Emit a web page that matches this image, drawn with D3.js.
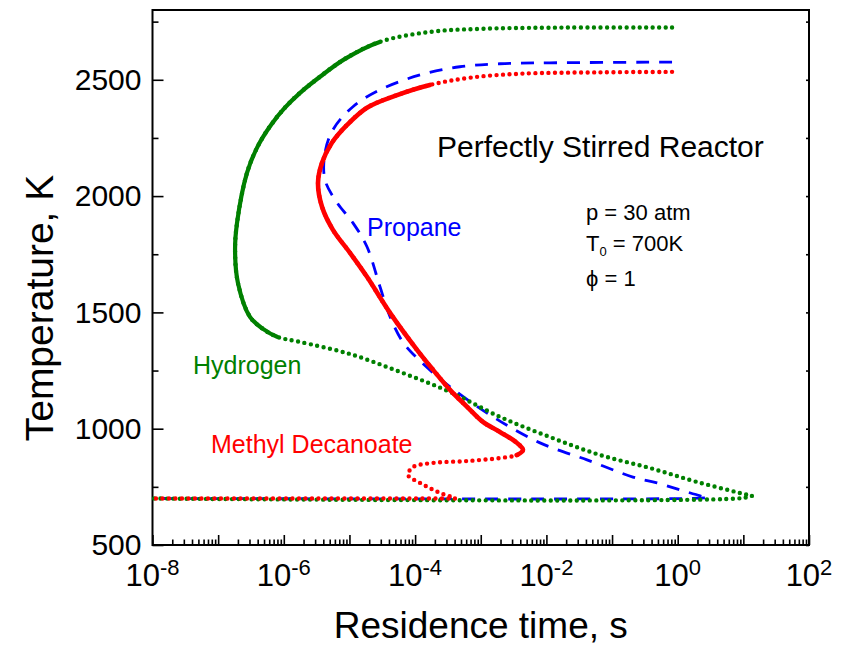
<!DOCTYPE html>
<html>
<head>
<meta charset="utf-8">
<script src="https://cdn.jsdelivr.net/npm/d3@7"></script>
<style>
  body { margin: 0; background: #fff; }
  svg { display: block; font-family: "Liberation Sans", Arial, sans-serif; }
</style>
</head>
<body>
<div id="chart"></div>
<script>
/* PSR S-curves: temperature vs residence time */

// axis ticks
const yMajor = [500, 1000, 1500, 2000, 2500];
const yMinor = [750, 1250, 1750, 2250, 2750];
const xDecades = [-8, -7, -6, -5, -4, -3, -2, -1, 0, 1, 2];
const xLabelExps = [-8, -6, -4, -2, 0, 2];

// Hydrogen (green), [tau s, T K], from the burning end down to the turning tip
const h2Branch = [[0.82, 2725], [0.0113, 2724], [9.7e-4, 2719], [1.7e-4, 2706], [2.9e-5, 2663],
  [8.55e-6, 2590], [3.56e-6, 2513], [1.77e-6, 2444], [1.04e-6, 2380], [6.38e-7, 2306],
  [4.04e-7, 2216], [2.75e-7, 2100], [1.94e-7, 1885], [1.81e-7, 1769], [2.0e-7, 1627],
  [3.05e-7, 1481], [4.82e-7, 1429], [7.9e-7, 1395], [1.77e-6, 1373], [1.02e-5, 1321],
  [5.9e-5, 1244], [3.4e-4, 1158], [1.96e-3, 1051], [0.01135, 964], [0.0655, 887],
  [0.378, 831], [1.97, 771], [13.5, 711]];
const h2Lower = [[13.5, 711], [9, 701], [1e-8, 700]];
const h2Dense = [[2.9e-5, 2663], [7.9e-7, 1395]];   // densely sampled stretch

// Propane (blue dashed)
const c3Branch = [[0.82, 2576], [0.0113, 2573], [1.96e-3, 2569], [4.8e-4, 2556], [1.19e-4, 2521],
  [2.92e-5, 2457], [1.13e-5, 2384], [5.6e-6, 2285], [4.24e-6, 2186], [4.24e-6, 2070],
  [6.5e-6, 1971], [1.13e-5, 1885], [1.85e-5, 1782], [2.92e-5, 1610], [4.15e-5, 1481],
  [6.5e-5, 1373], [1.07e-4, 1304], [3.4e-4, 1180], [1.54e-3, 1051], [8.0e-3, 939],
  [0.0416, 866], [0.208, 792], [0.484, 767], [1.08, 737], [2.19, 711], [2.6, 703]];
const c3Lower = [[2.6, 703], [1.5, 700], [1e-8, 700]];

// Methyl decanoate (red)
const mdBranch = [[0.82, 2534], [0.0655, 2532], [3.96e-3, 2526], [6.85e-4, 2509], [1.69e-4, 2478],
  [4.94e-5, 2431], [1.85e-5, 2380], [9.2e-6, 2306], [5.4e-6, 2229], [3.82e-6, 2143],
  [3.32e-6, 2057], [3.82e-6, 1954], [5.6e-6, 1855], [1.02e-5, 1756], [1.85e-5, 1653],
  [4.15e-5, 1498], [1.07e-4, 1339], [1.88e-4, 1253], [3.4e-4, 1167], [6.2e-4, 1094],
  [1.08e-3, 1029], [1.96e-3, 986], [3.56e-3, 939], [4.4e-3, 909], [3.56e-3, 887],
  [1.96e-3, 874], [6.2e-4, 861], [1.88e-4, 853], [9.3e-5, 835], [7.8e-5, 801],
  [1.19e-4, 767], [2.66e-4, 719], [4.05e-4, 704]];
const mdLower = [[4.05e-4, 700], [1e-8, 700]];
const mdDense = [[1.69e-4, 2478], [3.56e-3, 887]];

const GREEN = '#008000', BLUE = '#0000ff', RED = '#ff0000';

/* ── Layout ───────────────────────────────────────────────────────── */

const W = 844, H = 647;
const mLeft = 152.5, mRight = 809, mTop = 10, mBottom = 545;

const svg = d3.select('#chart').append('svg')
  .attr('width', W).attr('height', H);

const x = d3.scaleLog().domain([1e-8, 1e2]).range([mLeft, mRight]);
const y = d3.scaleLinear().domain([500, 2800]).range([mBottom, mTop]);

const line = d3.line()
  .x(d => x(d[0]))
  .y(d => y(d[1]))
  .curve(d3.curveCatmullRom.alpha(0.5));

/* ── Axes ─────────────────────────────────────────────────────────── */

const yAxisG = svg.append('g').attr('transform', `translate(${mLeft},0)`);
yAxisG.call(d3.axisLeft(y).tickValues(yMajor).tickSize(-11).tickPadding(11).tickFormat(d3.format('d')));
yAxisG.append('g').call(d3.axisLeft(y).tickValues(yMinor).tickSize(-6).tickFormat(''));

const yRightG = svg.append('g').attr('transform', `translate(${mRight},0)`);
yRightG.call(d3.axisRight(y).tickValues(yMajor.concat(yMinor)).tickSize(-3).tickFormat(''));

const minorX = [];
xDecades.slice(0, -1).forEach(e => {
  for (let k = 2; k <= 9; k++) minorX.push(k * Math.pow(10, e));
});

const xAxisG = svg.append('g').attr('transform', `translate(0,${mBottom})`);
xAxisG.call(d3.axisBottom(x).tickValues(xDecades.map(e => Math.pow(10, e))).tickSize(-10).tickFormat(''));
xAxisG.append('g').call(d3.axisBottom(x).tickValues(minorX).tickSize(-5.5).tickFormat(''));

svg.selectAll('.domain').remove();
svg.selectAll('.tick line').attr('stroke', '#000').attr('stroke-width', 1.6);
yAxisG.selectAll('.tick text')
  .attr('font-size', 30).attr('fill', '#000')
  .attr('font-family', '"Liberation Sans", Arial, sans-serif');

// x labels as 10^n
const xLab = svg.append('g');
xLabelExps.forEach(e => {
  const t = xLab.append('text')
    .attr('x', x(Math.pow(10, e)))
    .attr('y', 586)
    .attr('text-anchor', 'middle')
    .attr('font-size', 31);
  t.append('tspan').text('10');
  t.append('tspan').attr('font-size', 22).attr('dy', -11).text(String(e));
});

// frame
svg.append('rect')
  .attr('x', mLeft).attr('y', mTop)
  .attr('width', mRight - mLeft).attr('height', mBottom - mTop)
  .attr('fill', 'none').attr('stroke', '#000').attr('stroke-width', 2);

/* ── Series ───────────────────────────────────────────────────────── */

const plot = svg.append('g');

function dotted(data, color) {
  return plot.append('path').datum(data).attr('d', line)
    .attr('fill', 'none').attr('stroke', color)
    .attr('stroke-width', 4.4).attr('stroke-linecap', 'round')
    .attr('stroke-dasharray', '0 6.5');
}

// arc length along a path closest to a data point
function lengthAt(node, d) {
  const px = x(d[0]), py = y(d[1]);
  const L = node.getTotalLength();
  let best = 0, bd = Infinity;
  for (let s = 0; s <= L; s += 0.5) {
    const p = node.getPointAtLength(s);
    const dd = (p.x - px) ** 2 + (p.y - py) ** 2;
    if (dd < bd) { bd = dd; best = s; }
  }
  return best;
}

// where the solver points pile up, the dots merge into a solid stroke
function denseStretch(data, range, color, w) {
  const p = plot.append('path').datum(data).attr('d', line)
    .attr('fill', 'none').attr('stroke', color)
    .attr('stroke-width', w).attr('stroke-linecap', 'round');
  const node = p.node();
  const a = lengthAt(node, range[0]), b = lengthAt(node, range[1]);
  p.attr('stroke-dasharray', `${b - a} ${node.getTotalLength() + 20}`)
    .attr('stroke-dashoffset', -a);
}

// propane (bottom layer)
[c3Branch, c3Lower].forEach(d => {
  plot.append('path').datum(d).attr('d', line)
    .attr('fill', 'none').attr('stroke', BLUE)
    .attr('stroke-width', 2.8).attr('stroke-dasharray', '13 10');
});

// hydrogen
dotted(h2Branch, GREEN);
denseStretch(h2Branch, h2Dense, GREEN, 4.2);
dotted(h2Lower, GREEN);

// methyl decanoate (top)
dotted(mdBranch, RED);
denseStretch(mdBranch, mdDense, RED, 4.6);
dotted(mdLower, RED);

/* ── Labels ───────────────────────────────────────────────────────── */

svg.append('text').attr('x', 193).attr('y', 374).attr('font-size', 25).attr('fill', GREEN).text('Hydrogen');
svg.append('text').attr('x', 367).attr('y', 236).attr('font-size', 25).attr('fill', BLUE).text('Propane');
svg.append('text').attr('x', 211).attr('y', 453).attr('font-size', 25).attr('fill', RED).text('Methyl Decanoate');
svg.append('text').attr('x', 437).attr('y', 157).attr('font-size', 30).text('Perfectly Stirred Reactor');

svg.append('text').attr('x', 586).attr('y', 220).attr('font-size', 22).text('p = 30 atm');
const t0 = svg.append('text').attr('x', 586).attr('y', 251).attr('font-size', 22);
t0.append('tspan').text('T');
t0.append('tspan').attr('font-size', 13).attr('dy', 5).text('0');
t0.append('tspan').attr('dy', -5).text(' = 700K');
svg.append('text').attr('x', 586).attr('y', 286).attr('font-size', 22).text('\u03D5 = 1');

// axis titles
svg.append('text')
  .attr('x', (mLeft + mRight) / 2).attr('y', 638)
  .attr('text-anchor', 'middle').attr('font-size', 37)
  .text('Residence time, s');

svg.append('text')
  .attr('transform', 'translate(53,308) rotate(-90)')
  .attr('text-anchor', 'middle').attr('font-size', 39)
  .text('Temperature, K');
</script>
</body>
</html>
